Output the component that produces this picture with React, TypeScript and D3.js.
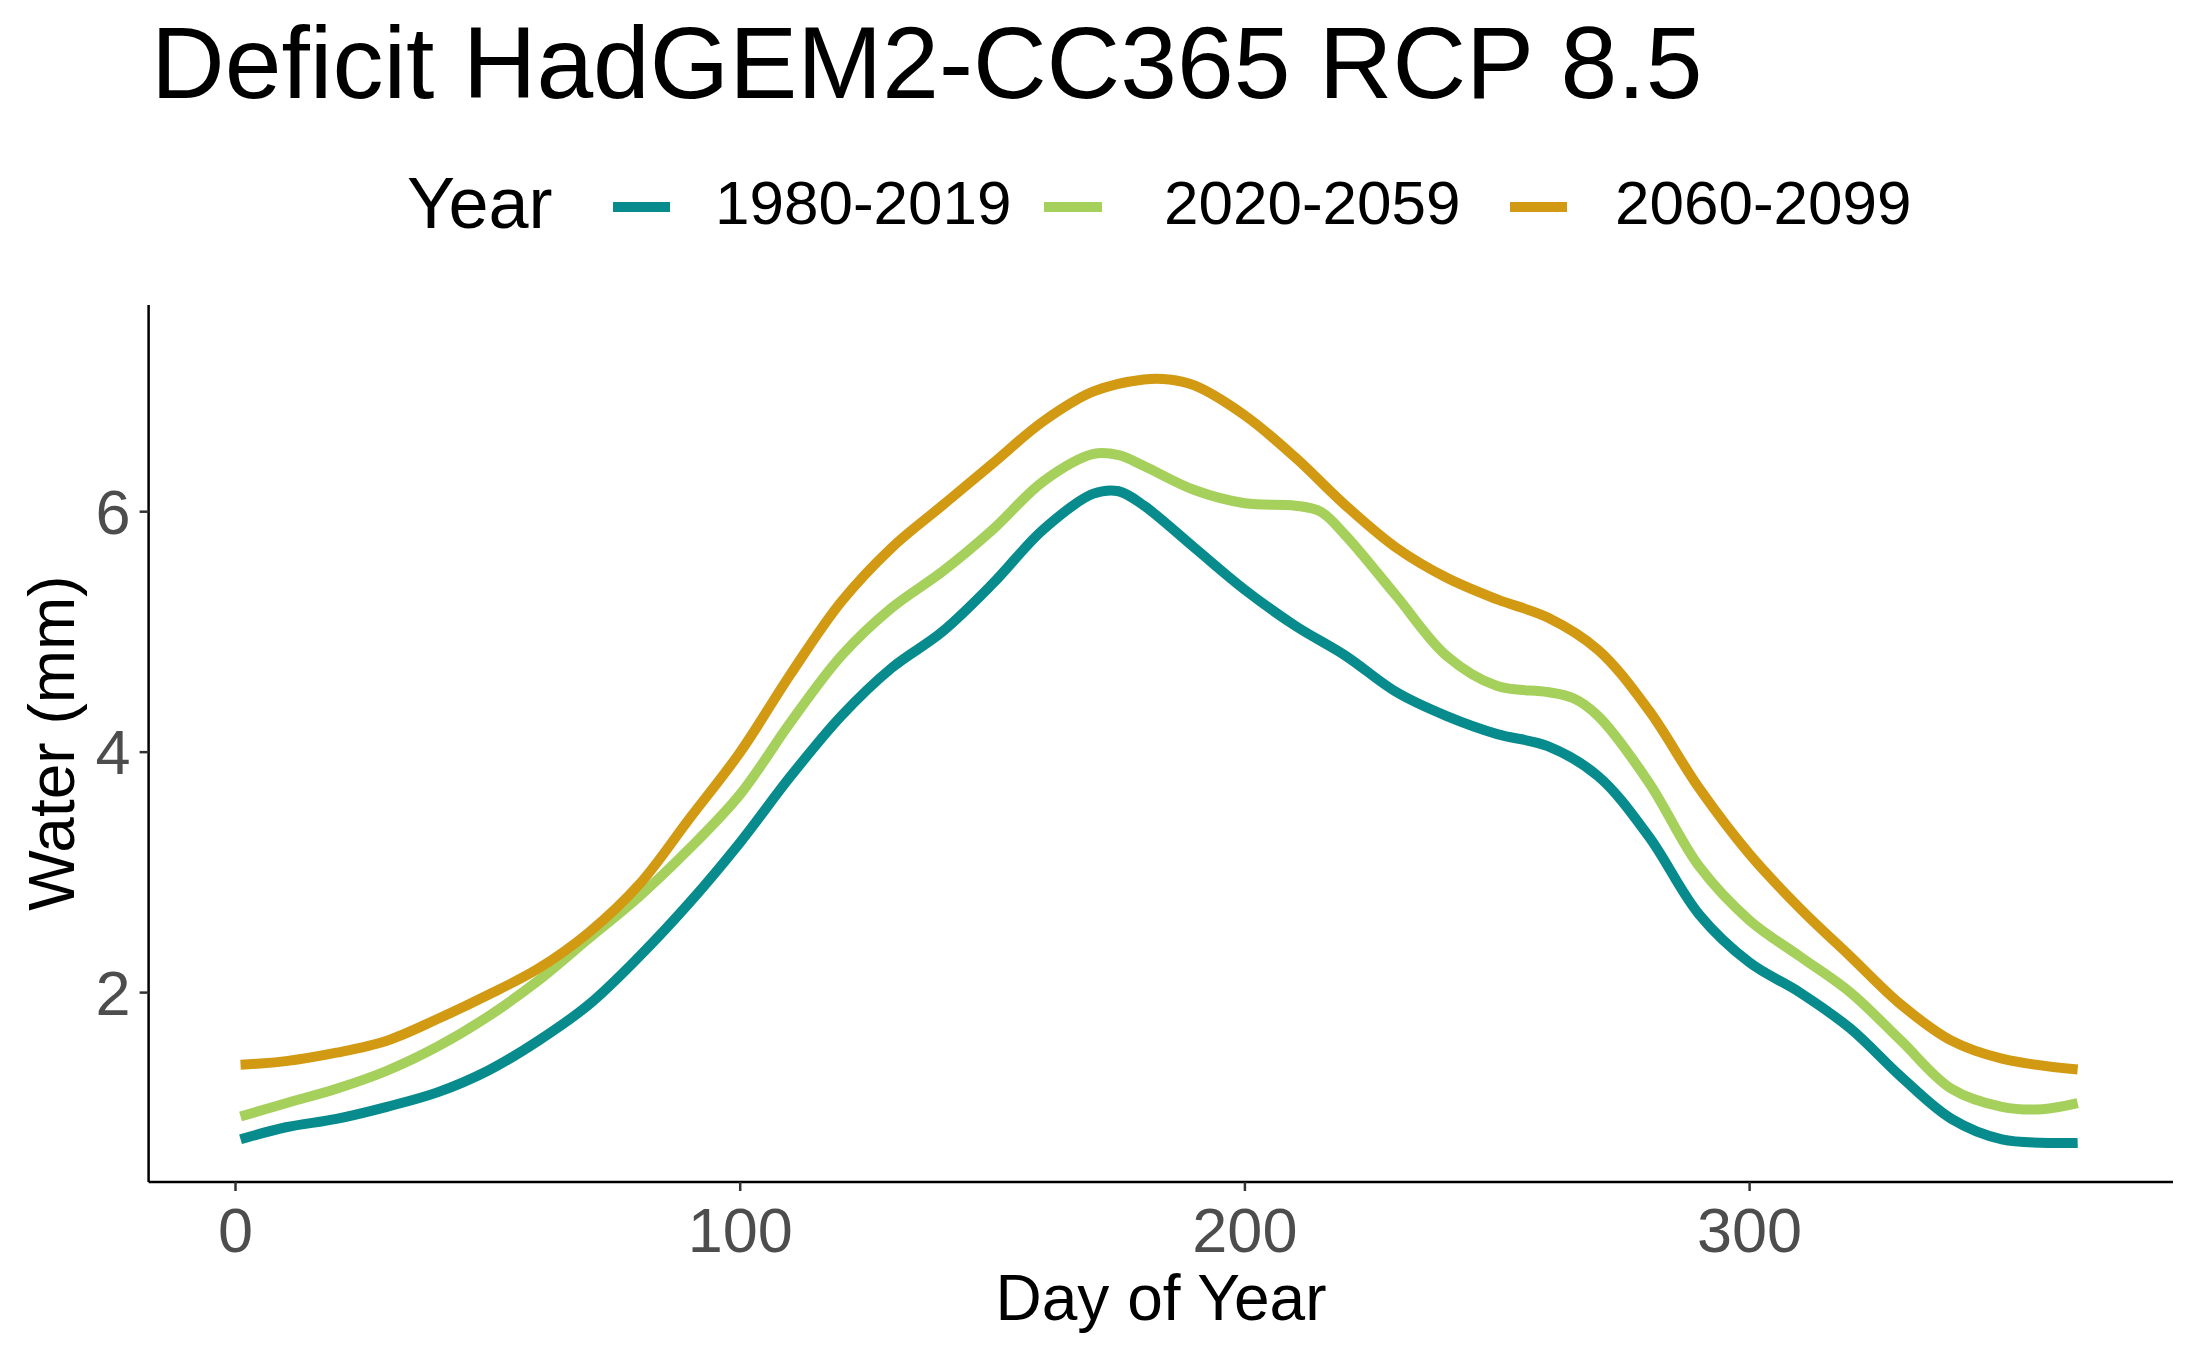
import React from "react";
import * as d3 from "d3";

const days1 = [1,10,20,30,40,50,60,70,80,90,100,110,120,130,140,150,160,170,175,180,190,200,210,220,230,240,250,260,270,280,290,300,310,320,330,340,350,365];
const s1 = [0.78,0.88,0.95,1.05,1.17,1.35,1.6,1.9,2.3,2.75,3.25,3.8,4.3,4.7,5.0,5.4,5.85,6.15,6.17,6.05,5.7,5.35,5.05,4.8,4.5,4.3,4.15,4.05,3.8,3.3,2.65,2.25,2.0,1.7,1.3,0.95,0.78,0.75];
const days2 = [1,10,20,30,40,50,60,70,80,90,100,110,120,130,140,150,160,170,175,180,190,200,210,215,220,230,240,250,260,265,270,280,290,300,310,320,330,340,350,358,365];
const s2 = [0.97,1.08,1.2,1.35,1.55,1.8,2.1,2.45,2.8,3.2,3.65,4.25,4.8,5.2,5.5,5.85,6.25,6.48,6.47,6.38,6.18,6.07,6.05,6.0,5.8,5.3,4.8,4.55,4.5,4.45,4.3,3.75,3.05,2.6,2.3,2.0,1.6,1.2,1.05,1.03,1.08];
const days3 = [1,10,20,30,40,50,60,70,80,90,100,110,120,130,140,150,160,170,180,185,190,200,210,220,230,240,250,260,270,280,290,300,310,320,330,340,350,365];
const s3 = [1.4,1.43,1.5,1.6,1.78,1.98,2.2,2.5,2.9,3.45,4.0,4.65,5.25,5.7,6.05,6.4,6.75,7.0,7.1,7.1,7.05,6.8,6.45,6.05,5.7,5.45,5.27,5.12,4.85,4.35,3.7,3.15,2.7,2.3,1.9,1.6,1.45,1.36];
const seriesNames = ["1980-2019", "2020-2059", "2060-2099"];
const colors = ["#078b8c", "#a5d05b", "#d29a12"];
const xTicks = [0, 100, 200, 300];
const yTicks = [2, 4, 6];

export default function App() {
  const x = d3.scaleLinear().domain([0, 100]).range([235.5, 740.2]);
  const y = d3.scaleLinear().domain([2, 6]).range([992.6, 511.7]);
  const left = 148.6, right = 2173, top = 305, bottom = 1182;
  const line = d3.line<[number, number]>().x(d => x(d[0])).y(d => y(d[1])).curve(d3.curveCatmullRom);
  const data = [
    days1.map((d, i) => [d, s1[i]] as [number, number]),
    days2.map((d, i) => [d, s2[i]] as [number, number]),
    days3.map((d, i) => [d, s3[i]] as [number, number]),
  ];
  const legendKeys = [[613, 670, 715], [1044, 1102, 1164], [1510, 1567, 1615]];
  const font = "Liberation Sans, Arial, sans-serif";
  return (
    <svg width={2187} height={1350} style={{ position: "absolute", left: 0, top: 0, background: "#fff" }} fontFamily={font}>
      <text x={151} y={98} fontSize={102}>Deficit HadGEM2-CC365 RCP 8.5</text>
      <text x={407} y={228} fontSize={72}>Year</text>
      {legendKeys.map((k, i) => (
        <g key={i}>
          <line x1={k[0]} x2={k[1]} y1={207} y2={207} stroke={colors[i]} strokeWidth={10} />
          <text x={k[2]} y={224} fontSize={62}>{seriesNames[i]}</text>
        </g>
      ))}
      <line x1={left} x2={left} y1={top} y2={bottom} stroke="#000" strokeWidth={2.5} />
      <line x1={left} x2={right} y1={bottom} y2={bottom} stroke="#000" strokeWidth={2.5} />
      {xTicks.map(t => (
        <g key={t}>
          <line x1={x(t)} x2={x(t)} y1={bottom} y2={bottom + 9} stroke="#333" strokeWidth={2.5} />
          <text x={x(t)} y={bottom + 70} fontSize={63} fill="#4d4d4d" textAnchor="middle">{t}</text>
        </g>
      ))}
      {yTicks.map(t => (
        <g key={t}>
          <line x1={left - 9} x2={left} y1={y(t)} y2={y(t)} stroke="#333" strokeWidth={2.5} />
          <text x={left - 18} y={y(t) + 22} fontSize={63} fill="#4d4d4d" textAnchor="end">{t}</text>
        </g>
      ))}
      {data.map((d, i) => (
        <path key={i} d={line(d) || ""} fill="none" stroke={colors[i]} strokeWidth={10} strokeLinejoin="round" />
      ))}
      <text x={1161} y={1320} fontSize={64} textAnchor="middle">Day of Year</text>
      <text transform="translate(74,743) rotate(-90)" fontSize={64} textAnchor="middle">Water (mm)</text>
    </svg>
  );
}
